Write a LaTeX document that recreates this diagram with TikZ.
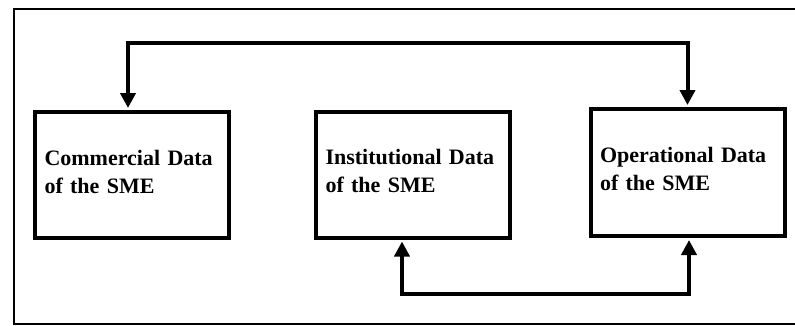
\documentclass[tikz,border=0pt]{standalone}
\usepackage{fontspec}
\setmainfont{Liberation Serif}
\usetikzlibrary{arrows.meta}

\begin{document}
\begin{tikzpicture}[x=1pt,y=1pt,
  databox/.style={draw, line width=4pt, minimum width=194pt, minimum height=126pt,
    inner xsep=9.5pt, text width=175pt, align=left,
    font=\bfseries\fontsize{22}{28}\selectfont},
  link/.style={line width=4pt, shorten <=2pt, shorten >=2pt,
    {Triangle[width=15pt,length=15pt]}-{Triangle[width=15pt,length=15pt]}}]
\useasboundingbox (0,0) rectangle (795,325);

% Outer frame
\draw[line width=2pt] (795,316.5) -- (13.5,316.5) -- (13.5,1) -- (795,1);

% Data boxes
\node[databox] (commercial) at (132,150) {Commercial Data\\of the SME\rule[-7pt]{0pt}{0pt}};
\node[databox] (institutional) at (413,150.5) {Institutional Data\\of the SME\rule[-7pt]{0pt}{0pt}};
\node[databox, minimum height=127pt] (operational) at (687.5,152.5) {Operational Data\\of the SME\rule[-7pt]{0pt}{0pt}};

% Links
\coordinate (topbar) at (0,282);
\coordinate (botbar) at (0,31);
\draw[link] ([xshift=-4pt]commercial.north) -- ([xshift=-4pt]commercial.north |- topbar) -| (operational.north);
\draw[link] ([xshift=-11pt]institutional.south) -- ([xshift=-11pt]institutional.south |- botbar) -| ([xshift=1.5pt]operational.south);
\end{tikzpicture}
\end{document}
